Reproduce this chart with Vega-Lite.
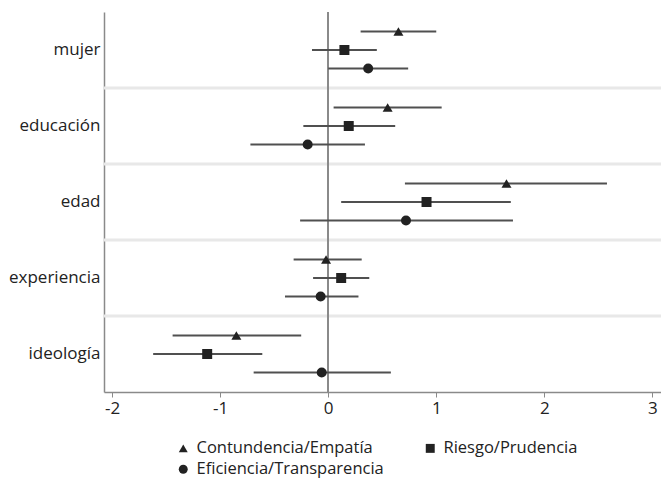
{
  "$schema": "https://vega.github.io/schema/vega-lite/v6.json",
  "width": 557,
  "height": 380,
  "autosize": {"type": "none"},
  "padding": {"left": 104, "top": 12, "right": 0, "bottom": 89},
  "background": "white",
  "config": {
    "view": {"stroke": null},
    "font": "Open Sans",
    "axis": {"labelFont": "Open Sans", "labelFontSize": 17, "labelColor": "#222", "grid": false, "domainColor": "#8a8a8a", "domainWidth": 1.5, "tickColor": "#8a8a8a"}
  },
  "datasets": {
    "coef": [
      {"var": "mujer", "serie": "Contundencia/Empatía", "est": 0.65, "lo": 0.30, "hi": 1.0},
      {"var": "mujer", "serie": "Riesgo/Prudencia", "est": 0.15, "lo": -0.15, "hi": 0.45},
      {"var": "mujer", "serie": "Eficiencia/Transparencia", "est": 0.37, "lo": 0.0, "hi": 0.74},
      {"var": "educación", "serie": "Contundencia/Empatía", "est": 0.55, "lo": 0.05, "hi": 1.05},
      {"var": "educación", "serie": "Riesgo/Prudencia", "est": 0.19, "lo": -0.23, "hi": 0.62},
      {"var": "educación", "serie": "Eficiencia/Transparencia", "est": -0.19, "lo": -0.72, "hi": 0.34},
      {"var": "edad", "serie": "Contundencia/Empatía", "est": 1.65, "lo": 0.71, "hi": 2.58},
      {"var": "edad", "serie": "Riesgo/Prudencia", "est": 0.91, "lo": 0.12, "hi": 1.69},
      {"var": "edad", "serie": "Eficiencia/Transparencia", "est": 0.72, "lo": -0.26, "hi": 1.71},
      {"var": "experiencia", "serie": "Contundencia/Empatía", "est": -0.02, "lo": -0.32, "hi": 0.31},
      {"var": "experiencia", "serie": "Riesgo/Prudencia", "est": 0.12, "lo": -0.14, "hi": 0.38},
      {"var": "experiencia", "serie": "Eficiencia/Transparencia", "est": -0.07, "lo": -0.40, "hi": 0.28},
      {"var": "ideología", "serie": "Contundencia/Empatía", "est": -0.85, "lo": -1.44, "hi": -0.25},
      {"var": "ideología", "serie": "Riesgo/Prudencia", "est": -1.12, "lo": -1.62, "hi": -0.61},
      {"var": "ideología", "serie": "Eficiencia/Transparencia", "est": -0.06, "lo": -0.69, "hi": 0.58}
    ]
  },
  "data": {"name": "coef"},
  "layer": [
    {
      "transform": [{"filter": "datum.serie === 'Riesgo/Prudencia' && datum.var !== 'mujer'"}],
      "mark": {"type": "rule", "color": "#e8e8e8", "strokeWidth": 3},
      "encoding": {
        "y": {"field": "var", "type": "nominal", "bandPosition": 0, "sort": ["mujer", "educación", "edad", "experiencia", "ideología"]}
      }
    },
    {
      "mark": {"type": "rule", "color": "#8a8a8a", "strokeWidth": 1.5},
      "encoding": {"x": {"datum": 0, "type": "quantitative"}}
    },
    {
      "mark": {"type": "rule", "color": "#505050", "strokeWidth": 2},
      "encoding": {
        "y": {"field": "var", "type": "nominal", "sort": ["mujer", "educación", "edad", "experiencia", "ideología"]},
        "yOffset": {"field": "serie", "type": "nominal", "sort": ["Contundencia/Empatía", "Riesgo/Prudencia", "Eficiencia/Transparencia"], "scale": {"paddingOuter": 0.55, "paddingInner": 0}},
        "x": {"field": "lo", "type": "quantitative"},
        "x2": {"field": "hi"}
      }
    },
    {
      "mark": {"type": "point", "filled": true, "color": "#222", "opacity": 1, "size": 100},
      "encoding": {
        "y": {"field": "var", "type": "nominal", "sort": ["mujer", "educación", "edad", "experiencia", "ideología"],
              "scale": {"paddingInner": 0, "paddingOuter": 0},
              "axis": {"title": null, "ticks": false, "tickSize": 0, "labelPadding": 4, "domain": true}},
        "yOffset": {"field": "serie", "type": "nominal", "sort": ["Contundencia/Empatía", "Riesgo/Prudencia", "Eficiencia/Transparencia"]},
        "x": {"field": "est", "type": "quantitative",
              "scale": {"domain": [-2.075, 3.08], "nice": false, "zero": false},
              "axis": {"title": null, "values": [-2, -1, 0, 1, 2, 3], "tickSize": 5, "labelPadding": 3, "labelExpr": "'' + datum.value"}},
        "shape": {"field": "serie", "type": "nominal",
                  "sort": ["Contundencia/Empatía", "Eficiencia/Transparencia", "Riesgo/Prudencia"],
                  "scale": {"domain": ["Contundencia/Empatía", "Eficiencia/Transparencia", "Riesgo/Prudencia"], "range": ["triangle-up", "circle", "square"]},
                  "legend": {"title": null, "orient": "none", "legendX": 71, "legendY": 428, "columns": 2, "columnPadding": 38, "rowPadding": 4, "labelFontSize": 16.5, "labelFont": "Open Sans", "labelColor": "#222", "labelLimit": 0, "symbolSize": 80, "symbolFillColor": "#222", "symbolStrokeColor": "#222", "symbolOffset": 0, "labelOffset": 5, "padding": 0}}
      }
    }
  ]
}
